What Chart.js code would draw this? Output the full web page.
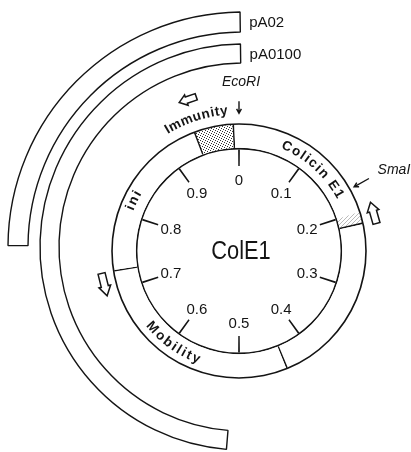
<!DOCTYPE html>
<html>
<head>
<meta charset="utf-8">
<script src="https://cdn.jsdelivr.net/npm/chart.js@4.4.0/dist/chart.umd.min.js"></script>
<style>
  html, body { margin: 0; padding: 0; background: #fff; overflow: hidden; }
  #wrap { position: relative; width: 411px; height: 452px; }
  #wrap canvas { position: absolute; left: 0; top: 0; }
</style>
</head>
<body>
<div id="wrap">
  <canvas id="plasmidArcs" width="411" height="452"></canvas>
  <canvas id="colE1Map" width="411" height="452"></canvas>
</div>
<script>
// ColE1 map (map units 0-1, clockwise from EcoRI) with pA02 / pA0100 spans

const mapTicks = [0, 0.1, 0.2, 0.3, 0.4, 0.5, 0.6, 0.7, 0.8, 0.9];
const tickLabels = ['0', '0.1', '0.2', '0.3', '0.4', '0.5', '0.6', '0.7', '0.8', '0.9'];

const regionNames = ['Colicin E1', '', 'Mobility', 'ini', 'Immunity'];
const regionStart = [0.993, 0.215, 0.438, 0.725, 0.943];
const regionEnd = [0.215, 0.438, 0.725, 0.943, 0.993];
const hatchSpan = [0.200, 0.215];

const plasmidNames = ['pA02', 'pA0100'];
const plasmidFrom = [0.751, 0.513];
const plasmidTo = [0.998, 0.998];

const siteNames = ['EcoRI', 'SmaI'];
const sitePos = [0, 0.169];

// transcription direction arrows (all counterclockwise)
const transcriptAt = [0.948, 0.206, 0.711];

const INK = '#141414';
const CLEAR = 'rgba(0,0,0,0)';
const FONT = '"Liberation Sans", Arial, sans-serif';

// label placement / look (not data)
const regionLabelStyle = {
  'Colicin E1': { at: 0.117, dr: 0, clockwise: true, gap: 1.6 },
  'Mobility': { at: 0.599, dr: 1, clockwise: false, gap: 1.8 },
  'ini': { at: 0.821, dr: 2, clockwise: true, gap: 2 },
  'Immunity': { at: 0.950, dr: 26, clockwise: true, gap: 0.8 }
};
const arrowLook = [
  { dr: 32, len: 18, wid: 11 },
  { dr: 12, len: 22, wid: 12 },
  { dr: 11, len: 23, wid: 12 }
];

function makeStipple(ctx) {
  const c = document.createElement('canvas');
  c.width = 5; c.height = 5;
  const g = c.getContext('2d');
  g.fillStyle = '#fff';
  g.fillRect(0, 0, 5, 5);
  g.fillStyle = '#333';
  [[0, 0], [2, 1], [4, 2], [1, 3], [3, 4]].forEach(p => g.fillRect(p[0], p[1], 1, 1));
  return ctx.createPattern(c, 'repeat');
}

function makeHatch(ctx) {
  const c = document.createElement('canvas');
  c.width = 4; c.height = 4;
  const g = c.getContext('2d');
  g.fillStyle = '#fff';
  g.fillRect(0, 0, 4, 4);
  g.strokeStyle = '#aaa';
  g.lineWidth = 0.8;
  g.beginPath();
  g.moveTo(0, 4); g.lineTo(4, 0);
  g.stroke();
  return ctx.createPattern(c, 'repeat');
}

// ring made of fills with thin black wedges at the marks
function ringFromMarks(marks, width, softCuts, gapFill) {
  const spans = [];
  marks.forEach(u => {
    const a = u - width / 2, b = u + width / 2;
    if (a < 0) { spans.push([0, b]); spans.push([a + 1, 1]); }
    else if (b > 1) { spans.push([a, 1]); spans.push([0, b - 1]); }
    else spans.push([a, b]);
  });
  const edges = new Set([0, 1]);
  spans.forEach(s => { edges.add(s[0]); edges.add(s[1]); });
  softCuts.forEach(u => edges.add(u));
  const list = [...edges].sort((p, q) => p - q);
  const data = [], colors = [];
  for (let i = 0; i < list.length - 1; i++) {
    const a = list[i], b = list[i + 1];
    if (b - a < 1e-9) continue;
    const m = (a + b) / 2;
    const inMark = spans.some(s => m > s[0] && m < s[1]);
    data.push(b - a);
    colors.push(inMark ? INK : gapFill(m));
  }
  return { data, colors };
}

// ---------- outer plasmid spans ----------
function bandDataset(from, to, weight) {
  return {
    data: [from, to - from, 1 - to],
    backgroundColor: [CLEAR, '#fff', CLEAR],
    borderColor: INK,
    borderWidth: [0, 1.4, 0],
    weight: weight,
    clip: false
  };
}

const plasmidLabels = {
  id: 'plasmidLabels',
  afterDatasetsDraw(chart) {
    const ctx = chart.ctx;
    ctx.save();
    ctx.font = '15px ' + FONT;
    ctx.fillStyle = INK;
    ctx.textBaseline = 'middle';
    [0, 2].forEach((dsIndex, i) => {
      const arc = chart.getDatasetMeta(dsIndex).data[1].getProps(['x', 'y', 'endAngle', 'innerRadius', 'outerRadius'], true);
      const rMid = (arc.innerRadius + arc.outerRadius) / 2;
      const x = arc.x + rMid * Math.cos(arc.endAngle);
      const y = arc.y + rMid * Math.sin(arc.endAngle);
      ctx.fillText(plasmidNames[i], x + 9, y + 1);
    });
    ctx.restore();
  }
};

new Chart(document.getElementById('plasmidArcs'), {
  type: 'doughnut',
  data: {
    datasets: [
      bandDataset(plasmidFrom[0], plasmidTo[0], 20),
      { data: [1], backgroundColor: CLEAR, borderWidth: 0, weight: 12, clip: false },
      bandDataset(plasmidFrom[1], plasmidTo[1], 19)
    ]
  },
  options: {
    responsive: false,
    devicePixelRatio: 1,
    animation: false,
    events: [],
    radius: 235,
    cutout: (184 / 235 * 100) + '%',
    layout: { padding: { left: 75, right: 0, top: 42, bottom: 0 } },
    plugins: { legend: { display: false }, tooltip: { enabled: false } }
  },
  plugins: [plasmidLabels]
});

// ---------- ColE1 circle ----------
const mapCanvas = document.getElementById('colE1Map');
const mapCtx = mapCanvas.getContext('2d');
const stipple = makeStipple(mapCtx);
const hatch = makeHatch(mapCtx);

const immunityIdx = regionNames.indexOf('Immunity');
const ring = ringFromMarks(regionStart, 0.0022, [hatchSpan[0]], u => {
  if (u > hatchSpan[0] && u < hatchSpan[1]) return hatch;
  if (u > regionStart[immunityIdx] && u < regionEnd[immunityIdx]) return stipple;
  return '#fff';
});
const tickRing = ringFromMarks(mapTicks, 0.0027, [], () => CLEAR);

function textOnArc(ctx, text, cx, cy, r, u, clockwise, gap) {
  const chars = [...text];
  const widths = chars.map(ch => ctx.measureText(ch).width);
  const total = widths.reduce((s, w) => s + w, 0) + gap * (chars.length - 1);
  const a0 = u * 2 * Math.PI - Math.PI / 2;
  const dir = clockwise ? 1 : -1;
  let acc = -total / 2;
  chars.forEach((ch, i) => {
    const off = acc + widths[i] / 2;
    acc += widths[i] + gap;
    const ang = a0 + dir * off / r;
    ctx.save();
    ctx.translate(cx + r * Math.cos(ang), cy + r * Math.sin(ang));
    ctx.rotate(ang + dir * Math.PI / 2);
    ctx.fillText(ch, 0, 0);
    ctx.restore();
  });
}

function blockArrow(ctx, x, y, ang, len, wid) {
  const h = len / 2, hw = wid / 2, sw = wid * 0.3, neck = h - len * 0.42;
  ctx.save();
  ctx.translate(x, y);
  ctx.rotate(ang);
  ctx.beginPath();
  ctx.moveTo(h, 0);
  ctx.lineTo(neck, -hw);
  ctx.lineTo(neck, -sw);
  ctx.lineTo(-h, -sw);
  ctx.lineTo(-h, sw);
  ctx.lineTo(neck, sw);
  ctx.lineTo(neck, hw);
  ctx.closePath();
  ctx.fillStyle = '#fff';
  ctx.fill();
  ctx.lineWidth = 1.5;
  ctx.strokeStyle = INK;
  ctx.stroke();
  ctx.restore();
}

function lineArrow(ctx, x1, y1, x2, y2) {
  const a = Math.atan2(y2 - y1, x2 - x1);
  ctx.beginPath();
  ctx.moveTo(x1, y1);
  ctx.lineTo(x2, y2);
  ctx.moveTo(x2 - 5 * Math.cos(a - 0.5), y2 - 5 * Math.sin(a - 0.5));
  ctx.lineTo(x2, y2);
  ctx.lineTo(x2 - 5 * Math.cos(a + 0.5), y2 - 5 * Math.sin(a + 0.5));
  ctx.stroke();
}

const mapAnnotations = {
  id: 'mapAnnotations',
  afterDatasetsDraw(chart) {
    const ctx = chart.ctx;
    const band = chart.getDatasetMeta(1).data[0].getProps(['x', 'y', 'innerRadius', 'outerRadius'], true);
    const outer = chart.getDatasetMeta(0).data[0].getProps(['outerRadius'], true).outerRadius;
    const inner = chart.getDatasetMeta(2).data[0].getProps(['innerRadius'], true).innerRadius;
    const cx = band.x, cy = band.y;
    const ang = u => u * 2 * Math.PI - Math.PI / 2;
    const at = (u, r) => [cx + r * Math.cos(ang(u)), cy + r * Math.sin(ang(u))];

    ctx.save();
    ctx.fillStyle = INK;
    ctx.strokeStyle = INK;
    ctx.textAlign = 'center';
    ctx.textBaseline = 'middle';

    // scale labels inside the circle
    ctx.font = '15px ' + FONT;
    mapTicks.forEach((u, i) => {
      const p = at(u, inner - 30);
      ctx.fillText(tickLabels[i], p[0], p[1] + 1);
    });

    // plasmid name in the centre
    ctx.save();
    ctx.font = '26px ' + FONT;
    ctx.translate(cx + 2, cy + 1);
    ctx.scale(0.84, 1);
    ctx.fillText('ColE1', 0, 0);
    ctx.restore();

    // gene regions
    ctx.font = 'bold 13.5px ' + FONT;
    const rMid = (band.innerRadius + band.outerRadius) / 2;
    regionNames.forEach(name => {
      const st = regionLabelStyle[name];
      if (!st) return;
      textOnArc(ctx, name, cx, cy, rMid + st.dr, st.at, st.clockwise, st.gap);
    });

    // restriction sites
    ctx.lineWidth = 1.4;
    ctx.font = 'italic 14px ' + FONT;
    siteNames.forEach((name, i) => {
      const u = sitePos[i];
      const tail = at(u, outer + (i === 0 ? 22 : 21));
      const head = at(u, outer + (i === 0 ? 10 : 4));
      lineArrow(ctx, tail[0], tail[1], head[0], head[1]);
      if (i === 0) ctx.fillText(name, tail[0] + 2, tail[1] - 19);
      else ctx.fillText(name, tail[0] + 25, tail[1] - 8);
    });

    // transcription arrows
    transcriptAt.forEach((u, i) => {
      const look = arrowLook[i];
      const p = at(u, outer + look.dr);
      blockArrow(ctx, p[0], p[1], ang(u) - Math.PI / 2, look.len, look.wid);
    });
    ctx.restore();
  }
};

new Chart(mapCanvas, {
  type: 'doughnut',
  data: {
    datasets: [
      { data: [1], backgroundColor: INK, borderWidth: 0, weight: 1.6 },
      { data: ring.data, backgroundColor: ring.colors, borderWidth: 0, weight: 23 },
      { data: [1], backgroundColor: INK, borderWidth: 0, weight: 1.6 },
      { data: tickRing.data, backgroundColor: tickRing.colors, borderWidth: 0, weight: 16.6 }
    ]
  },
  options: {
    responsive: false,
    devicePixelRatio: 1,
    animation: false,
    events: [],
    radius: 127.8,
    cutout: (85 / 127.8 * 100) + '%',
    layout: { padding: { left: 67, right: 0, top: 50, bottom: 0 } },
    plugins: { legend: { display: false }, tooltip: { enabled: false } }
  },
  plugins: [mapAnnotations]
});
</script>
</body>
</html>
